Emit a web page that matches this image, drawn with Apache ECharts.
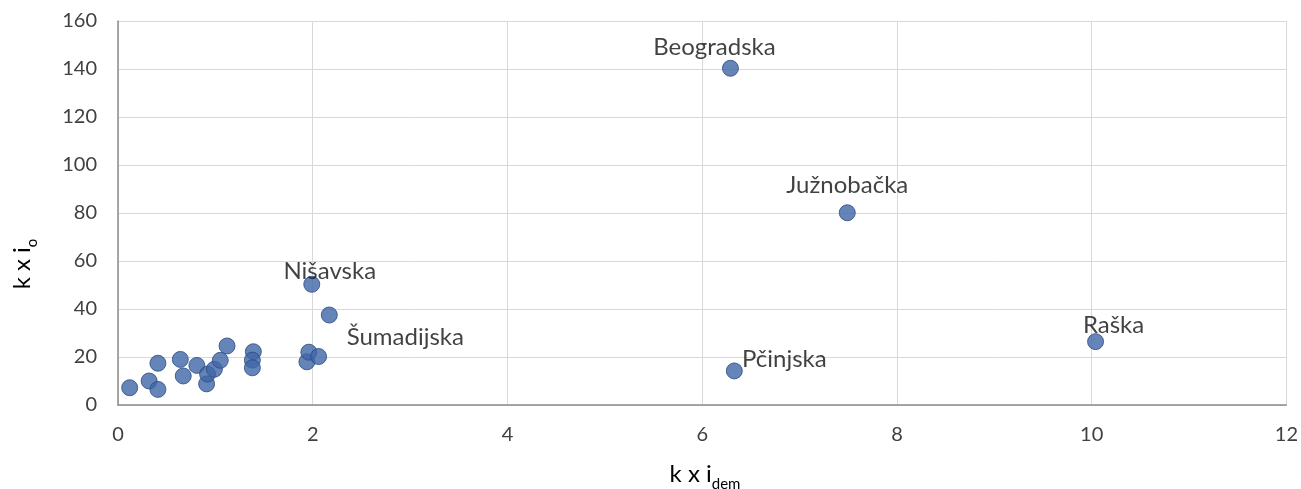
<!DOCTYPE html>
<html>
<head>
<meta charset="utf-8">
<style>
  html, body { margin: 0; padding: 0; background: #fff; }
  #chart { width: 1301px; height: 489px; }
</style>
<script src="https://cdn.jsdelivr.net/npm/echarts@6/dist/echarts.min.js"></script>
</head>
<body>
<div id="chart"></div>
<script>
// k x i_dem (x) and k x i_o (y) per district
const xValues = [0.12, 0.32, 0.41, 0.41, 0.64, 0.67, 0.81, 0.91, 0.92, 0.99, 1.05, 1.12,
    1.39, 1.38, 1.38, 1.94, 1.96, 2.06, 2.17, 1.99, 6.29, 7.49, 6.33, 10.04];
const yValues = [7.2, 10.0, 6.5, 17.4, 19.0, 12.1, 16.5, 8.8, 12.9, 14.9, 18.6, 24.6,
    22.2, 18.7, 15.5, 18.0, 22.0, 20.2, 37.5, 50.3, 140.3, 80.1, 14.2, 26.4];
const names = ['', '', '', '', '', '', '', '', '', '', '', '',
    '', '', '', '', '', '', 'Šumadijska', 'Nišavska', 'Beogradska', 'Južnobačka', 'Pčinjska', 'Raška'];
const xTicks = [0, 2, 4, 6, 8, 10, 12];
const yTicks = [0, 20, 40, 60, 80, 100, 120, 140, 160];

// label offsets from the marker centre, in pixels
const labelOffsets = {
    'Šumadijska': [76, 22],
    'Nišavska': [18, -13],
    'Beogradska': [-16, -21],
    'Južnobačka': [0, -27],
    'Pčinjska': [50, -12],
    'Raška': [18, -16],
};

const FONT = 'Lato, "Liberation Sans", sans-serif';

const points = xValues.map((x, i) => {
    const item = { value: [x, yValues[i]], name: names[i] };
    if (names[i]) {
        item.label = {
            show: true,
            position: 'inside',
            offset: labelOffsets[names[i]],
            formatter: '{b}',
            color: '#111',
            fontSize: 24,
            fontFamily: FONT,
        };
    }
    return item;
});

const chart = echarts.init(document.getElementById('chart'), null, { renderer: 'canvas' });

const titleRich = {
    m: { fontSize: 24, fontFamily: FONT, lineHeight: 30, verticalAlign: 'top', color: '#111' },
    s: { fontSize: 15, fontFamily: FONT, lineHeight: 30, verticalAlign: 'bottom', color: '#111' },
};

const option = {
    animation: false,
    grid: { left: 118, right: 13, top: 21, bottom: 84 },
    xAxis: {
        type: 'value',
        min: xTicks[0],
        max: xTicks[xTicks.length - 1],
        interval: 2,
        axisLine: { show: true, lineStyle: { color: '#8c8c8c', width: 1.5 } },
        axisTick: { show: false },
        axisLabel: { margin: 20, color: '#404040', fontSize: 20, fontFamily: FONT },
        splitLine: { show: true, lineStyle: { color: '#d9d9d9', width: 1 } },
    },
    yAxis: {
        type: 'value',
        min: yTicks[0],
        max: yTicks[yTicks.length - 1],
        interval: 20,
        axisLine: { show: true, lineStyle: { color: '#8c8c8c', width: 1.5 } },
        axisTick: { show: false },
        axisLabel: { margin: 21, color: '#404040', fontSize: 20, fontFamily: FONT },
        splitLine: { show: true, lineStyle: { color: '#d9d9d9', width: 1 } },
    },
    graphic: [
        {
            type: 'text',
            x: 705,
            y: 477,
            style: {
                text: '{m|k x i}{s|dem}',
                align: 'center',
                verticalAlign: 'middle',
                rich: titleRich,
            },
        },
        {
            type: 'text',
            x: 25,
            y: 264,
            rotation: Math.PI / 2,
            style: {
                text: '{m|k x i}{s|o}',
                align: 'center',
                verticalAlign: 'middle',
                rich: titleRich,
            },
        },
    ],
    series: [
        {
            type: 'scatter',
            symbol: 'circle',
            symbolSize: 16,
            itemStyle: { color: '#3f66a8', borderColor: '#2c4a80', borderWidth: 1 },
            data: points,
        },
    ],
};

chart.setOption(option);
</script>
</body>
</html>
